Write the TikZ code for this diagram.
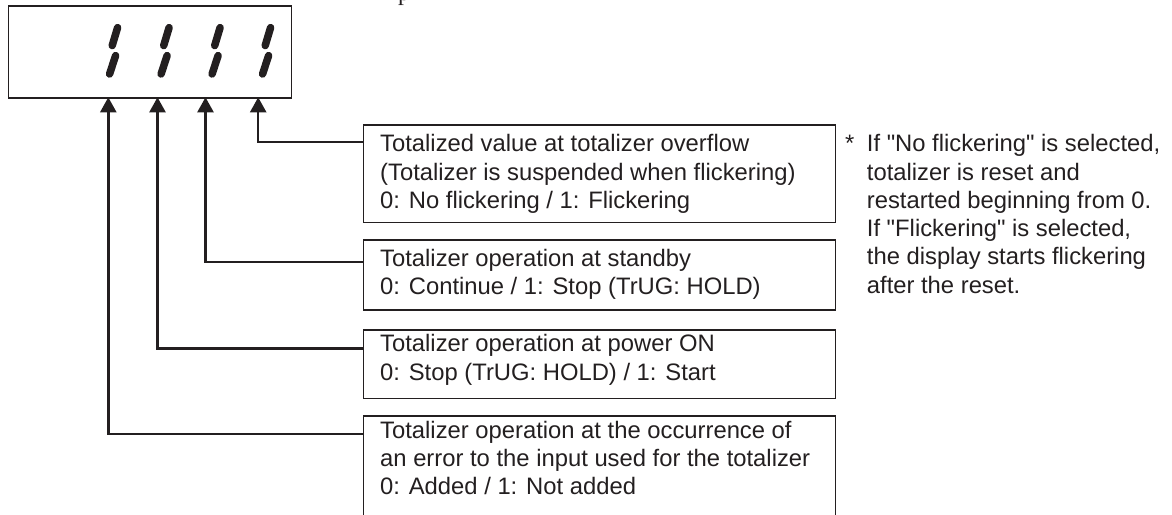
\documentclass[tikz,border=0pt]{standalone}
\usepackage{fontspec}
\setmainfont{Liberation Sans}
\newfontfamily\plainsans{Liberation Sans}
\newfontfamily\serifpart{Liberation Serif}
\usetikzlibrary{arrows.meta}
\definecolor{ink}{HTML}{231F20}
\begin{document}
\begin{tikzpicture}[x=1pt,y=-1pt,
  frame/.style={draw=ink, line width=1.6pt, inner sep=0pt, anchor=north west},
  conn/.style={draw=ink, line width=2.4pt, -{Triangle[width=16pt,length=15pt]}},
  seg/.style={draw=ink, line width=7.5pt, line cap=round},
  txt/.style={text=ink, inner sep=0pt, anchor=base west, font=\plainsans\fontsize{23.8}{28.3}\selectfont}]
\useasboundingbox (0,0) rectangle (1172,514);
\clip (0,0) rectangle (1172,514);
% cut-off title fragment
\node[anchor=base west, inner sep=0pt, text=ink, font=\serifpart\fontsize{23.8}{28}\selectfont] (pfrag) at (398,0) {p};
% display
\node[frame, minimum width=283.2pt, minimum height=92pt] (disp) at (7.5,5.3) {};
\foreach \dx in {0,51.5,102.5,153}{
  \draw[seg] (117.6+\dx,27.6) -- (112.2+\dx,45.6);
  \draw[seg] (115.6+\dx,55.6) -- (109.6+\dx,74.0);
}
\coordinate (a1) at (108.3,97.3);
\coordinate (a2) at (157.5,97.3);
\coordinate (a3) at (205.5,97.3);
\coordinate (a4) at (258.2,97.3);
% boxes
\node[frame, minimum width=471.8pt, minimum height=97.7pt] (b1) at (362.7,124) {};
\node[frame, minimum width=471.8pt, minimum height=69.7pt] (b2) at (362.7,239.3) {};
\node[frame, minimum width=471.8pt, minimum height=68.7pt] (b3) at (362.7,329) {};
\node[frame, minimum width=471.8pt, minimum height=130pt] (b4) at (362.7,415.3) {};
\node[txt] (t1) at (380,151.7) {\vtop{\hbox{Totalized value at totalizer overflow}\hbox{(Totalizer is suspended when flickering)}\hbox{0: No flickering / 1: Flickering}}};
\node[txt] (t2) at (380,266) {\vtop{\hbox{Totalizer operation at standby}\hbox{0: Continue / 1: Stop (TrUG: HOLD)}}};
\node[txt] (t3) at (380,351.7) {\vtop{\hbox{Totalizer operation at power ON}\hbox{0: Stop (TrUG: HOLD) / 1: Start}}};
\node[txt] (t4) at (380,438.3) {\vtop{\hbox{Totalizer operation at the occurrence of}\hbox{an error to the input used for the totalizer}\hbox{0: Added / 1: Not added}}};
% connectors
\draw[conn] ([yshift=-17.7pt]b1.north west) -| (a4);
\draw[conn] ([yshift=-22.4pt]b2.north west) -| (a3);
\draw[conn] ([yshift=-19.3pt]b3.north west) -| (a2);
\draw[conn] ([yshift=-18.7pt]b4.north west) -| (a1);
% footnote
\node[txt] (fn) at (866.7,151.7) {\vtop{\hbox{\llap{*\hspace{12.5pt}}If "No flickering" is selected,}\hbox{totalizer is reset and}\hbox{restarted beginning from 0.}\hbox{If "Flickering" is selected,}\hbox{the display starts flickering}\hbox{after the reset.}}};
\end{tikzpicture}
\end{document}
